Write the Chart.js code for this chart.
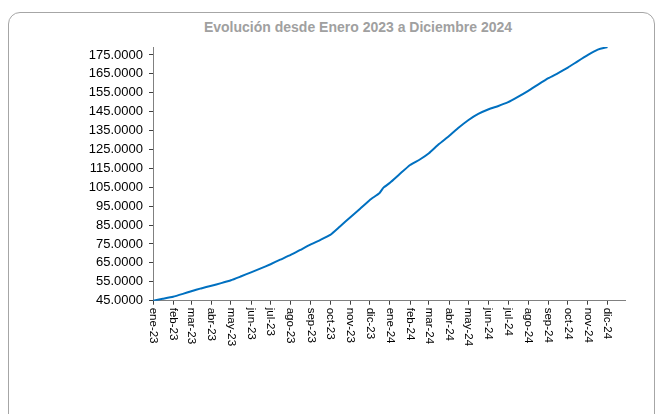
<!DOCTYPE html>
<html>
<head>
<meta charset="utf-8">
<script src="https://cdn.jsdelivr.net/npm/chart.js@4.4.1/dist/chart.umd.min.js"></script>
<style>
  html, body { margin:0; padding:0; background:#fff; }
  body { width:662px; height:414px; position:relative; overflow:hidden; font-family:"Liberation Sans", Arial, sans-serif; }
  #frame { position:absolute; left:8px; top:12px; width:647px; height:420px; border:1px solid #a6a6a6; border-radius:12px; box-sizing:border-box; }
  #title { position:absolute; left:158px; width:400px; top:19px; text-align:center; font-weight:bold; font-size:14px; color:#a0a0a0; }
  #wrap { position:absolute; left:0; top:0; width:662px; height:414px; }
</style>
</head>
<body>
<div id="frame"></div>
<div id="title">Evolución desde Enero 2023 a Diciembre 2024</div>
<div id="wrap"><canvas id="c" width="662" height="414"></canvas></div>
<script>
// ---- data ----
const monthLabels = ['ene-23','feb-23','mar-23','abr-23','may-23','jun-23','jul-23','ago-23','sep-23','oct-23','nov-23','dic-23',
                     'ene-24','feb-24','mar-24','abr-24','may-24','jun-24','jul-24','ago-24','sep-24','oct-24','nov-24','dic-24'];
const monthStarts = ['2023-01-01','2023-02-01','2023-03-01','2023-04-01','2023-05-01','2023-06-01','2023-07-01','2023-08-01',
                     '2023-09-01','2023-10-01','2023-11-01','2023-12-01','2024-01-01','2024-02-01','2024-03-01','2024-04-01',
                     '2024-05-01','2024-06-01','2024-07-01','2024-08-01','2024-09-01','2024-10-01','2024-11-01','2024-12-01'];
const sampleDates = ['2023-01-01','2023-01-16','2023-02-01','2023-02-16','2023-03-01','2023-03-16','2023-04-01','2023-04-16',
                     '2023-05-01','2023-05-16','2023-06-01','2023-06-16','2023-07-01','2023-07-16','2023-08-01','2023-08-16',
                     '2023-09-01','2023-09-16','2023-10-01','2023-10-16','2023-11-01','2023-11-16','2023-12-01','2023-12-16','2023-12-22',
                     '2024-01-01','2024-01-16','2024-02-01','2024-02-16','2024-03-01','2024-03-16','2024-04-01','2024-04-16',
                     '2024-05-01','2024-05-16','2024-06-01','2024-06-16','2024-07-01','2024-07-16','2024-08-01','2024-08-16',
                     '2024-09-01','2024-09-16','2024-10-01','2024-10-16','2024-11-01','2024-11-16','2024-12-01'];
const values = [45.0, 46.0, 47.1, 48.6, 50.0, 51.5, 52.9, 54.3,
                55.8, 57.8, 60.0, 62.1, 64.3, 66.7, 69.2, 71.9,
                74.8, 77.2, 79.8, 84.3, 89.1, 93.6, 98.3, 102.0, 104.8,
                107.4, 112.0, 116.8, 119.7, 123.0, 127.7, 132.1, 136.6,
                140.6, 143.8, 146.3, 148.0, 150.0, 152.8, 156.0, 159.3,
                162.7, 165.4, 168.3, 171.6, 175.0, 177.8, 179.2];
const yTicks = [45,55,65,75,85,95,105,115,125,135,145,155,165,175];
const yMin = 45, yMax = 179.2;
const xEndDate = '2024-12-28';

// ---- helpers ----
const day0 = Date.UTC(2023,0,1);
function dayIndex(s){ const p = s.split('-').map(Number); return (Date.UTC(p[0],p[1]-1,p[2]) - day0) / 86400000; }
const points = sampleDates.map((d,i)=>({x: dayIndex(d), y: values[i]}));
const monthTickValues = monthStarts.map(dayIndex);

const xLabelPlugin = {
  id: 'xLabels',
  afterDraw(chart){
    const sc = chart.scales.x, ctx = chart.ctx;
    ctx.save();
    ctx.font = '11.5px "Liberation Sans", Arial, sans-serif';
    ctx.fillStyle = '#000';
    ctx.textAlign = 'left';
    ctx.textBaseline = 'middle';
    monthTickValues.forEach((v,i)=>{
      const px = sc.getPixelForValue(v);
      ctx.save();
      ctx.translate(px, sc.top + 7);
      ctx.rotate(Math.PI/2);
      ctx.fillText(monthLabels[i], 0, 0);
      ctx.restore();
    });
    ctx.restore();
  }
};

new Chart(document.getElementById('c'), {
  type: 'line',
  data: { datasets: [{ data: points, borderColor:'#0070c0', borderWidth:2, pointRadius:0, tension:0.15, fill:false }] },
  options: {
    responsive:false, animation:false, devicePixelRatio:1,
    layout: { padding: { left:0, right:37, top:47, bottom:0 } },
    plugins: { legend:{display:false}, tooltip:{enabled:false}, title:{display:false} },
    scales: {
      x: {
        type:'linear', min:0, max:dayIndex(xEndDate),
        afterBuildTicks(s){ s.ticks = monthTickValues.map(v=>({value:v})); },
        afterFit(s){ s.height = 113.3; },
        ticks:{ display:false },
        grid:{ drawOnChartArea:false, drawTicks:true, tickLength:4, color:'#404040', lineWidth:1 },
        border:{ display:true, color:'#808080', width:1 }
      },
      y: {
        type:'linear', min:yMin, max:yMax,
        afterBuildTicks(s){ s.ticks = yTicks.map(v=>({value:v})); },
        afterFit(s){ s.width = 153; },
        ticks:{ padding:6, color:'#000', font:{ family:'"Liberation Sans", Arial, sans-serif', size:13 }, callback:(v)=>Number(v).toFixed(4) },
        grid:{ drawOnChartArea:false, drawTicks:true, tickLength:4, color:'#404040', lineWidth:1 },
        border:{ display:true, color:'#808080', width:1 }
      }
    }
  },
  plugins:[xLabelPlugin]
});
</script>
</body>
</html>
